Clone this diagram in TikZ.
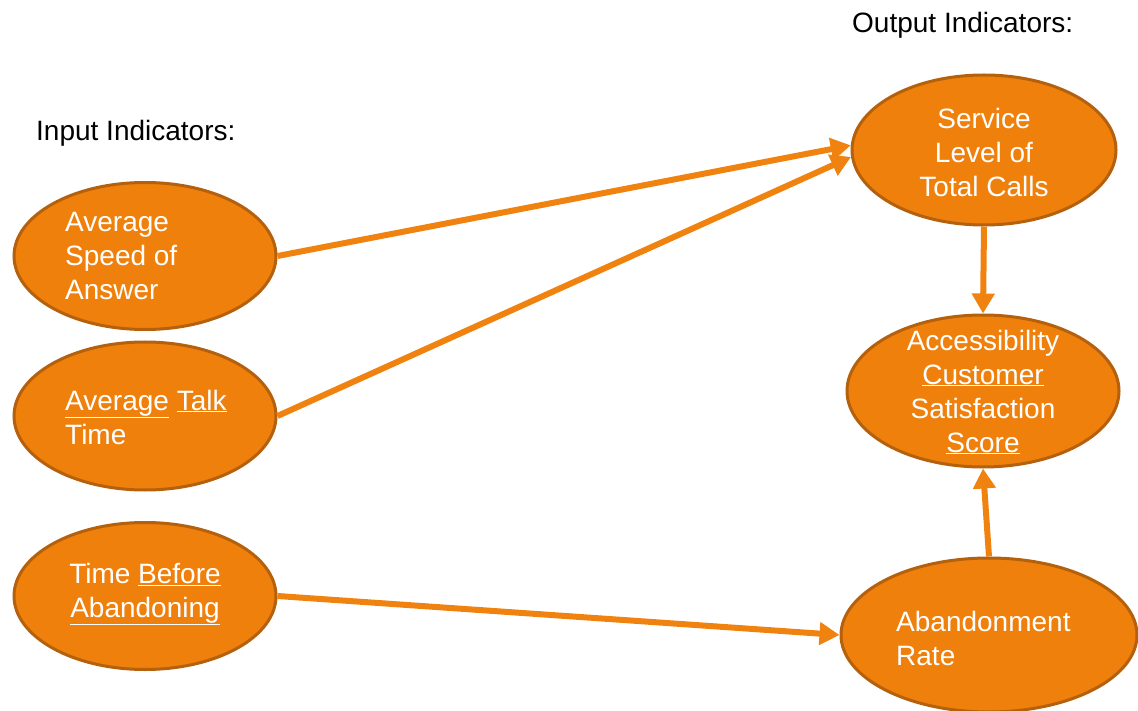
\documentclass[tikz,border=0pt]{standalone}
\usepackage{fontspec}
\setmainfont{Liberation Sans}
\usetikzlibrary{arrows.meta}
\definecolor{kpifill}{RGB}{240,128,12}
\definecolor{kpiedge}{RGB}{180,96,12}
\definecolor{kpiarrow}{RGB}{240,130,16}
\newcommand\ulw[1]{\underline{#1}}
\tikzset{
  kpi/.style={ellipse, draw=kpiedge, line width=3pt, fill=kpifill, inner sep=0pt},
  kpitext/.style={text=white, font=\fontsize{28}{34}\selectfont, inner sep=0pt},
  heading/.style={text=black, font=\fontsize{28}{34}\selectfont, inner sep=0pt, anchor=west},
  link/.style={draw=kpiarrow, line width=6pt, -{Triangle[length=20pt,width=22pt]}, shorten >=0pt}
}
\usetikzlibrary{shapes.geometric}
\begin{document}
\begin{tikzpicture}[x=1pt,y=-1pt]
\useasboundingbox (0,0) rectangle (1138,711);
\clip (0,0) rectangle (1138,711);

% headings
\node[heading] (outhead) at (852,25) {Output Indicators:};
\node[heading] (inhead) at (36,133) {Input Indicators:};

% input indicators
\node[kpi, minimum width=262pt, minimum height=147pt] (asa) at (145,256) {};
\node[kpi, minimum width=262pt, minimum height=148pt] (att) at (145,416) {};
\node[kpi, minimum width=262pt, minimum height=147pt] (tba) at (145,596) {};

% output indicators
\node[kpi, minimum width=264pt, minimum height=150pt] (slc) at (984,150) {};
\node[kpi, minimum width=272pt, minimum height=152pt] (acs) at (983,391) {};
\node[kpi, minimum width=296pt, minimum height=154pt] (abr) at (989,635) {};

% texts
\node[kpitext, anchor=west, align=left] (asat) at (65,256) {Average\\Speed of\\Answer};
\node[kpitext, anchor=west, align=left] (attt) at (65,417) {\ulw{Average} \ulw{Talk}\\Time};
\node[kpitext, align=center] (tbat) at (145,594) {Time \ulw{Before}\\\ulw{Abandoning}};
\node[kpitext, align=center] (slct) at (984,152) {Service\\Level of\\Total Calls};
\node[kpitext, align=center] (acst) at (983,392) {Accessibility\\\ulw{Customer}\\Satisfaction\\\ulw{Score}};
\node[kpitext, anchor=west, align=left] (abrt) at (896,638) {Abandonment\\Rate};

% connectors
\draw[link] (asa.east) -- (slc.178);
\draw[link] (att.east) -- (slc.183);
\draw[link] (slc.south) -- (acs.north);
\draw[link] (abr.north) -- (acs.south);
\draw[link] (tba.east) -- (abr.west);
\end{tikzpicture}
\end{document}
